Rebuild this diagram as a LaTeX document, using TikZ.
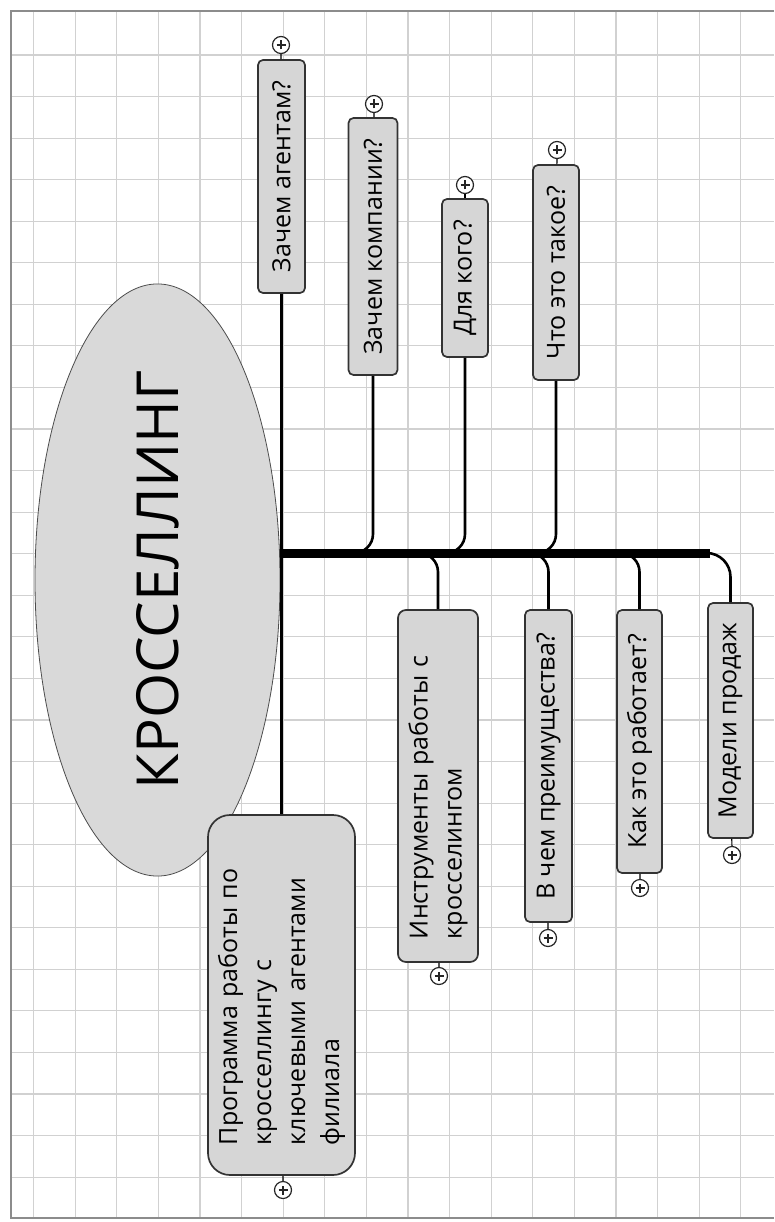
\documentclass[tikz,border=0pt]{standalone}
\usepackage{fontspec}
\setmainfont{Open Sans}
\usetikzlibrary{shapes.geometric}

\begin{document}
\begin{tikzpicture}[x=1pt, y=-1pt,
  gridline/.style={black!18, line width=1.1pt},
  frame/.style={black!45, line width=2pt},
  topic/.style={draw=black!80, fill=black!16, line width=1.7pt, rounded corners=5pt,
                rotate=90, inner sep=0pt, font=\fontsize{25}{34}\selectfont},
  link/.style={line width=2.6pt, rounded corners=19pt},
  expander/.style={circle, draw=black!85, fill=white, line width=1.2pt, minimum size=17pt, inner sep=0pt,
    path picture={\draw[line width=1.3pt] ([xshift=-4.5pt]path picture bounding box.center) -- ([xshift=4.5pt]path picture bounding box.center);
                  \draw[line width=1.3pt] ([yshift=-4.5pt]path picture bounding box.center) -- ([yshift=4.5pt]path picture bounding box.center);}}]

\useasboundingbox (0,0) rectangle (774,1222);

% -------- paper grid -----------
\foreach \i in {0,...,17}
  \draw[gridline] ({33.6+41.6*\i},11) -- ({33.6+41.6*\i},1218);
\foreach \j in {0,...,27}
  \draw[gridline] (11,{55+41.56*\j}) -- (774,{55+41.56*\j});
\draw[frame] (774,11) -- (11,11) -- (11,1218) -- (774,1218);

% -------- central topic -----------
\node[ellipse, draw=black!70, fill=black!15, line width=0.8pt, rotate=90, minimum width=430pt,
      minimum height=245pt, inner sep=0pt, font=\fontsize{58}{60}\selectfont] (core) at (157.5,580) {КРОССЕЛЛИНГ};

% -------- branches -----------
\node[topic, minimum width=233pt, minimum height=47pt] (agents)  at (281.5,176.5) {Зачем агентам?};
\node[topic, minimum width=257pt, minimum height=49pt] (company) at (373,246.5)   {Зачем компании?};
\node[topic, minimum width=158pt, minimum height=46pt] (whom)    at (465,278)     {Для кого?};
\node[topic, minimum width=215pt, minimum height=46pt] (what)    at (556,272.5)   {Что это такое?};

\node[topic, minimum width=352pt, minimum height=80pt, text width=306pt, align=left, rounded corners=8pt]
  (tools) at (438,786) {Инструменты работы с\\кросселингом};
\node[topic, minimum width=312pt, minimum height=47pt] (pros)   at (548.5,766)  {В чем преимущества?};
\node[topic, minimum width=263pt, minimum height=45pt] (how)    at (639.5,741.5) {Как это работает?};
\node[topic, minimum width=235pt, minimum height=45pt] (models) at (730.5,720.5) {Модели продаж};

\node[topic, minimum width=360pt, minimum height=147pt, text width=300pt, align=left, rounded corners=22pt]
  (program) at (281.5,995) {Программа работы по\\кросселлингу с\\ключевыми агентами\\филиала};

% -------- connectors -----------
\coordinate (hub)      at (282,553);
\coordinate (tail)     at (700,553);
\coordinate (jcompany) at (345,553);
\coordinate (jwhom)    at (437,553);
\coordinate (jwhat)    at (528,553);
\coordinate (jtools)   at (410,553);
\coordinate (jpros)    at (520,553);
\coordinate (jhow)     at (612,553);

\draw[line width=3pt] (agents.west) -- (program.east);
\draw[line width=9pt] (hub) -- (710,553);

\draw[link] (company.west) |- (jcompany);
\draw[link] (whom.west) |- (jwhom);
\draw[link] (what.west) |- (jwhat);
\draw[link] (jtools) -| (tools.east);
\draw[link] (jpros) -| (pros.east);
\draw[link] (jhow) -| (how.east);
\draw[link, rounded corners=24pt] (tail) -| (models.east);

% -------- expand marks -----------
\foreach \n/\x/\y in {agents/281/45, company/374/104, whom/465/185, what/557/150,
                      tools/439/976, pros/548/938, how/640/888, models/732/855, program/283/1190} {
  \node[expander] (x\n) at (\x,\y) {};
  \draw[line width=1.2pt] (x\n) -- (\n);
}

\end{tikzpicture}
\end{document}
